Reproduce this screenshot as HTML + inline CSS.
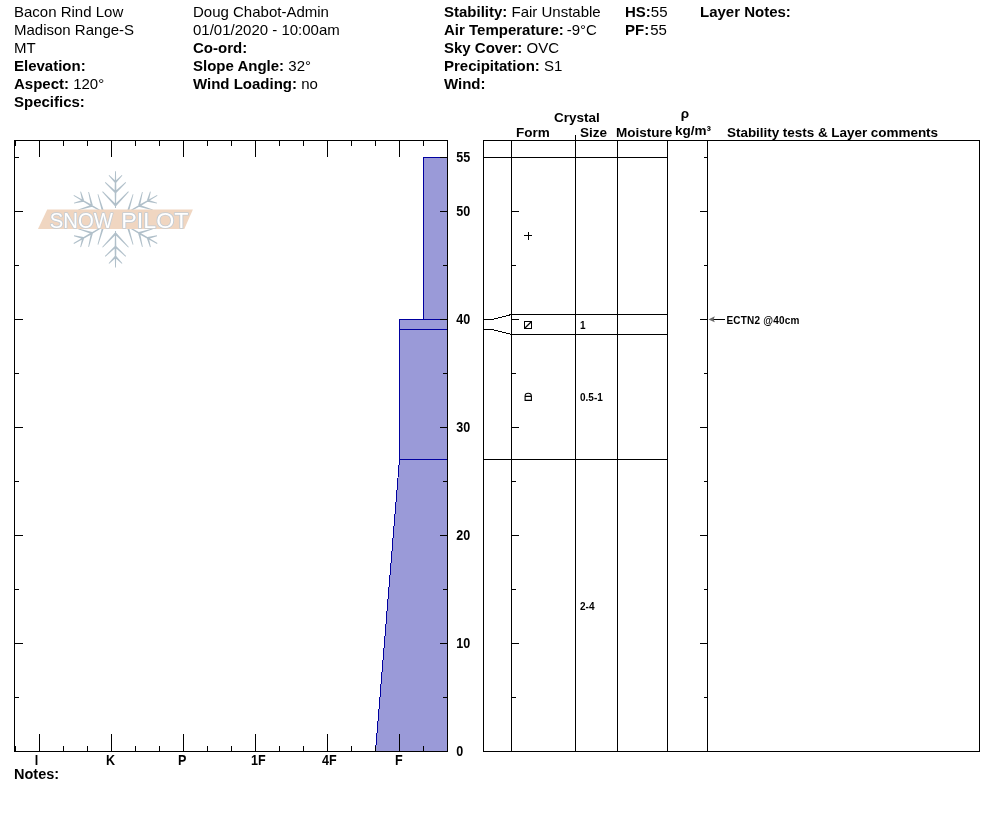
<!DOCTYPE html>
<html lang="en"><head><meta charset="utf-8"><title>Snow Pilot pit graph</title>
<style>
html,body{margin:0;padding:0;background:#fff;}
body{width:994px;height:840px;overflow:hidden;position:relative;font-family:"Liberation Sans",sans-serif;}
svg{position:absolute;left:0;top:0;display:block;}
text{font-family:"Liberation Sans",sans-serif;fill:#000;}
.b{font-weight:bold;}
.h{font-size:15px;}
.c{font-size:13.5px;font-weight:bold;}
.ax{font-size:14.2px;font-weight:bold;}
.hx{font-size:14.2px;font-weight:bold;}
.s{font-size:10px;font-weight:bold;}
.ln{stroke:#000;stroke-width:1;fill:none;shape-rendering:crispEdges;}
</style></head><body>
<svg width="994" height="840" viewBox="0 0 994 840">
<rect width="994" height="840" fill="#fff"/>
<text class="h" x="14" y="17" xml:space="preserve"><tspan>Bacon Rind Low</tspan></text>
<text class="h" x="14" y="35" xml:space="preserve"><tspan>Madison Range-S</tspan></text>
<text class="h" x="14" y="53" xml:space="preserve"><tspan>MT</tspan></text>
<text class="h" x="14" y="71" xml:space="preserve"><tspan class="b">Elevation:</tspan></text>
<text class="h" x="14" y="89" xml:space="preserve"><tspan class="b">Aspect:</tspan><tspan> 120°</tspan></text>
<text class="h" x="14" y="107" xml:space="preserve"><tspan class="b">Specifics:</tspan></text>
<text class="h" x="193" y="17" xml:space="preserve"><tspan>Doug Chabot-Admin</tspan></text>
<text class="h" x="193" y="35" xml:space="preserve"><tspan>01/01/2020 - 10:00am</tspan></text>
<text class="h" x="193" y="53" xml:space="preserve"><tspan class="b">Co-ord:</tspan></text>
<text class="h" x="193" y="71" xml:space="preserve"><tspan class="b">Slope Angle:</tspan><tspan> 32°</tspan></text>
<text class="h" x="193" y="89" xml:space="preserve"><tspan class="b">Wind Loading:</tspan><tspan> no</tspan></text>
<text class="h" x="444" y="17" xml:space="preserve"><tspan class="b">Stability:</tspan><tspan> Fair Unstable</tspan></text>
<text class="h" x="444" y="35" xml:space="preserve"><tspan class="b">Air Temperature:</tspan><tspan dx="-1.2"> -9°C</tspan></text>
<text class="h" x="444" y="53" xml:space="preserve"><tspan class="b">Sky Cover:</tspan><tspan> OVC</tspan></text>
<text class="h" x="444" y="71" xml:space="preserve"><tspan class="b">Precipitation:</tspan><tspan> S1</tspan></text>
<text class="h" x="444" y="89" xml:space="preserve"><tspan class="b">Wind:</tspan></text>
<text class="h" x="625" y="17" xml:space="preserve"><tspan class="b">HS:</tspan><tspan>55</tspan></text>
<text class="h" x="625" y="35" xml:space="preserve"><tspan class="b">PF:</tspan><tspan dx="1">55</tspan></text>
<text class="h" x="700" y="17" xml:space="preserve"><tspan class="b">Layer Notes:</tspan></text>
<text class="b" style="font-size:14.5px" x="14" y="779">Notes:</text>
<g shape-rendering="crispEdges">
<rect x="423" y="157" width="25" height="163" fill="#9a9ad8"/>
<rect x="399" y="319" width="49" height="141" fill="#9a9ad8"/>
</g>
<polygon points="399.5,459.5 447.5,459.5 447.5,751.5 375.5,751.5" fill="#9a9ad8"/>
<g stroke="#0000a0" stroke-width="1" fill="none">
<path shape-rendering="crispEdges" d="M423.5 157V320 M423 157.5H448 M399 319.5H448 M399.5 319V460 M399 329.5H448 M399 459.5H448"/>
<path shape-rendering="crispEdges" d="M399.5 459.5L375.5 751.5"/>
</g>
<path class="ln" d="M14.5 140.5H447.5V751.5H14.5Z M15.5 141V146 M15.5 746V751 M39.5 141V157 M39.5 734V751 M63.5 141V146 M63.5 746V751 M87.5 141V146 M87.5 746V751 M111.5 141V157 M111.5 734V751 M135.5 141V146 M135.5 746V751 M159.5 141V146 M159.5 746V751 M183.5 141V157 M183.5 734V751 M207.5 141V146 M207.5 746V751 M231.5 141V146 M231.5 746V751 M255.5 141V157 M255.5 734V751 M279.5 141V146 M279.5 746V751 M303.5 141V146 M303.5 746V751 M327.5 141V157 M327.5 734V751 M351.5 141V146 M351.5 746V751 M375.5 141V146 M375.5 746V751 M399.5 141V157 M399.5 734V751 M423.5 141V146 M423.5 746V751 M14 157.5H19 M440 157.5H448 M14 211.5H23 M440 211.5H448 M14 265.5H19 M443 265.5H448 M14 319.5H23 M440 319.5H448 M14 373.5H19 M443 373.5H448 M14 427.5H23 M440 427.5H448 M14 481.5H19 M443 481.5H448 M14 535.5H23 M440 535.5H448 M14 589.5H19 M443 589.5H448 M14 643.5H23 M440 643.5H448 M14 697.5H19 M443 697.5H448"/>
<text class="ax" transform="translate(456.3 162.0) scale(0.885 1)">55</text>
<text class="ax" transform="translate(456.3 216.0) scale(0.885 1)">50</text>
<text class="ax" transform="translate(456.3 324.0) scale(0.885 1)">40</text>
<text class="ax" transform="translate(456.3 432.0) scale(0.885 1)">30</text>
<text class="ax" transform="translate(456.3 540.0) scale(0.885 1)">20</text>
<text class="ax" transform="translate(456.3 648.0) scale(0.885 1)">10</text>
<text class="ax" transform="translate(456.3 756.0) scale(0.885 1)">0</text>
<text class="hx" transform="translate(34.8 765) scale(0.885 1)">I</text>
<text class="hx" transform="translate(106 765) scale(0.885 1)">K</text>
<text class="hx" transform="translate(178 765) scale(0.885 1)">P</text>
<text class="hx" transform="translate(251 765) scale(0.885 1)">1F</text>
<text class="hx" transform="translate(322 765) scale(0.885 1)">4F</text>
<text class="hx" transform="translate(395 765) scale(0.885 1)">F</text>
<path class="ln" d="M483.5 140.5H979.5V751.5H483.5Z M511.5 140V752 M617.5 140V752 M667.5 140V752 M707.5 140V752 M575.5 135V752 M483 157.5H668 M511 314.5H668 M511 334.5H668 M483 459.5H668 M704 157.5H708 M511 211.5H519 M700 211.5H708 M511 265.5H516 M704 265.5H708 M511 319.5H519 M700 319.5H708 M511 373.5H516 M704 373.5H708 M511 427.5H519 M700 427.5H708 M511 481.5H516 M704 481.5H708 M511 535.5H519 M700 535.5H708 M511 589.5H516 M704 589.5H708 M511 643.5H519 M700 643.5H708 M511 697.5H516 M704 697.5H708"/>
<path shape-rendering="crispEdges" d="M483.5 319.5H492.5L511.5 314.5 M483.5 329.5H492.5L511.5 334.5" stroke="#000" stroke-width="1" fill="none"/>
<text class="c" x="554" y="122">Crystal</text>
<text class="c" x="516" y="137">Form</text>
<text class="c" x="580" y="137">Size</text>
<text class="c" x="616" y="137">Moisture</text>
<text class="c" x="680.8" y="117.8">ρ</text>
<text class="c" x="675" y="135">kg/m³</text>
<text class="c" x="727" y="137" style="letter-spacing:-0.04px">Stability tests &amp; Layer comments</text>
<g stroke="#000" stroke-width="1" fill="none">
<path shape-rendering="crispEdges" d="M524 235.5H532 M528.5 232V240"/>
<path shape-rendering="crispEdges" d="M524.5 321.5H531.5V328.5H524.5Z"/>
<path stroke-width="1.3" d="M524.5 328.5L531.5 321.5"/>
<path stroke-width="1.1" d="M525.1 400.4V396.2C525.1 394.4 526.4 393.3 528.3 393.3C530.1 393.3 531.4 394.4 531.4 396.2V400.4Z M525.1 396.4H531.4"/>
</g>
<text class="s" x="580" y="329">1</text>
<text class="s" x="580" y="401">0.5-1</text>
<text class="s" x="580" y="610">2-4</text>
<path class="ln" d="M713 319.5H725"/>
<path d="M708.4 319.4L714.8 316.3L713.6 319.4L714.8 322.3Z" fill="#6a6a6a"/>
<text class="s" x="726.5" y="324" style="letter-spacing:0.2px">ECTN2 @40cm</text>
<g id="logo">
<g fill="#b1c0ca" stroke="none">
<path transform="translate(115.5 219.4) rotate(0)" d="M0.50 -11.50L0.85 -30.00L-0.85 -30.00L-0.50 -11.50Z M0.85 -30.00L0.45 -48.20L-0.45 -48.20L-0.85 -30.00Z M0.72 -38.00L-6.31 -44.38L-6.89 -43.82L-0.72 -36.60Z M0.72 -36.60L6.89 -43.82L6.31 -44.38L-0.72 -38.00Z M0.69 -27.92L-10.02 -37.29L-10.58 -36.71L-0.69 -26.48Z M0.69 -26.48L10.58 -36.71L10.02 -37.29L-0.69 -27.92Z M0.73 -14.79L-12.71 -28.08L-13.29 -27.52L-0.73 -13.41Z M0.73 -13.41L13.29 -27.52L12.71 -28.08L-0.73 -14.79Z"/>
<path transform="translate(115.5 219.4) rotate(60)" d="M0.50 -11.50L0.85 -30.00L-0.85 -30.00L-0.50 -11.50Z M0.85 -30.00L0.45 -48.20L-0.45 -48.20L-0.85 -30.00Z M0.72 -38.00L-6.31 -44.38L-6.89 -43.82L-0.72 -36.60Z M0.72 -36.60L6.89 -43.82L6.31 -44.38L-0.72 -38.00Z M0.69 -27.92L-10.02 -37.29L-10.58 -36.71L-0.69 -26.48Z M0.69 -26.48L10.58 -36.71L10.02 -37.29L-0.69 -27.92Z M0.73 -14.79L-12.71 -28.08L-13.29 -27.52L-0.73 -13.41Z M0.73 -13.41L13.29 -27.52L12.71 -28.08L-0.73 -14.79Z"/>
<path transform="translate(115.5 219.4) rotate(120)" d="M0.50 -11.50L0.85 -30.00L-0.85 -30.00L-0.50 -11.50Z M0.85 -30.00L0.45 -48.20L-0.45 -48.20L-0.85 -30.00Z M0.72 -38.00L-6.31 -44.38L-6.89 -43.82L-0.72 -36.60Z M0.72 -36.60L6.89 -43.82L6.31 -44.38L-0.72 -38.00Z M0.69 -27.92L-10.02 -37.29L-10.58 -36.71L-0.69 -26.48Z M0.69 -26.48L10.58 -36.71L10.02 -37.29L-0.69 -27.92Z M0.73 -14.79L-12.71 -28.08L-13.29 -27.52L-0.73 -13.41Z M0.73 -13.41L13.29 -27.52L12.71 -28.08L-0.73 -14.79Z"/>
<path transform="translate(115.5 219.4) rotate(180)" d="M0.50 -11.50L0.85 -30.00L-0.85 -30.00L-0.50 -11.50Z M0.85 -30.00L0.45 -48.20L-0.45 -48.20L-0.85 -30.00Z M0.72 -38.00L-6.31 -44.38L-6.89 -43.82L-0.72 -36.60Z M0.72 -36.60L6.89 -43.82L6.31 -44.38L-0.72 -38.00Z M0.69 -27.92L-10.02 -37.29L-10.58 -36.71L-0.69 -26.48Z M0.69 -26.48L10.58 -36.71L10.02 -37.29L-0.69 -27.92Z M0.73 -14.79L-12.71 -28.08L-13.29 -27.52L-0.73 -13.41Z M0.73 -13.41L13.29 -27.52L12.71 -28.08L-0.73 -14.79Z"/>
<path transform="translate(115.5 219.4) rotate(240)" d="M0.50 -11.50L0.85 -30.00L-0.85 -30.00L-0.50 -11.50Z M0.85 -30.00L0.45 -48.20L-0.45 -48.20L-0.85 -30.00Z M0.72 -38.00L-6.31 -44.38L-6.89 -43.82L-0.72 -36.60Z M0.72 -36.60L6.89 -43.82L6.31 -44.38L-0.72 -38.00Z M0.69 -27.92L-10.02 -37.29L-10.58 -36.71L-0.69 -26.48Z M0.69 -26.48L10.58 -36.71L10.02 -37.29L-0.69 -27.92Z M0.73 -14.79L-12.71 -28.08L-13.29 -27.52L-0.73 -13.41Z M0.73 -13.41L13.29 -27.52L12.71 -28.08L-0.73 -14.79Z"/>
<path transform="translate(115.5 219.4) rotate(300)" d="M0.50 -11.50L0.85 -30.00L-0.85 -30.00L-0.50 -11.50Z M0.85 -30.00L0.45 -48.20L-0.45 -48.20L-0.85 -30.00Z M0.72 -38.00L-6.31 -44.38L-6.89 -43.82L-0.72 -36.60Z M0.72 -36.60L6.89 -43.82L6.31 -44.38L-0.72 -38.00Z M0.69 -27.92L-10.02 -37.29L-10.58 -36.71L-0.69 -26.48Z M0.69 -26.48L10.58 -36.71L10.02 -37.29L-0.69 -27.92Z M0.73 -14.79L-12.71 -28.08L-13.29 -27.52L-0.73 -13.41Z M0.73 -13.41L13.29 -27.52L12.71 -28.08L-0.73 -14.79Z"/>
</g>
<polygon points="47.2,209.5 192.9,209.5 184.3,229 38,229" fill="#f0d6c1"/>
<g font-size="22px" stroke="#c3ccd4" stroke-width="1.7" stroke-linejoin="round" style="paint-order:stroke">
<text x="49.7" y="227.6" textLength="63.2" lengthAdjust="spacingAndGlyphs" style="fill:#fff">SNOW</text>
<text x="121.3" y="227.6" textLength="67.1" lengthAdjust="spacingAndGlyphs" style="fill:#fff">PILOT</text>
</g>
</g>
</svg></body></html>
